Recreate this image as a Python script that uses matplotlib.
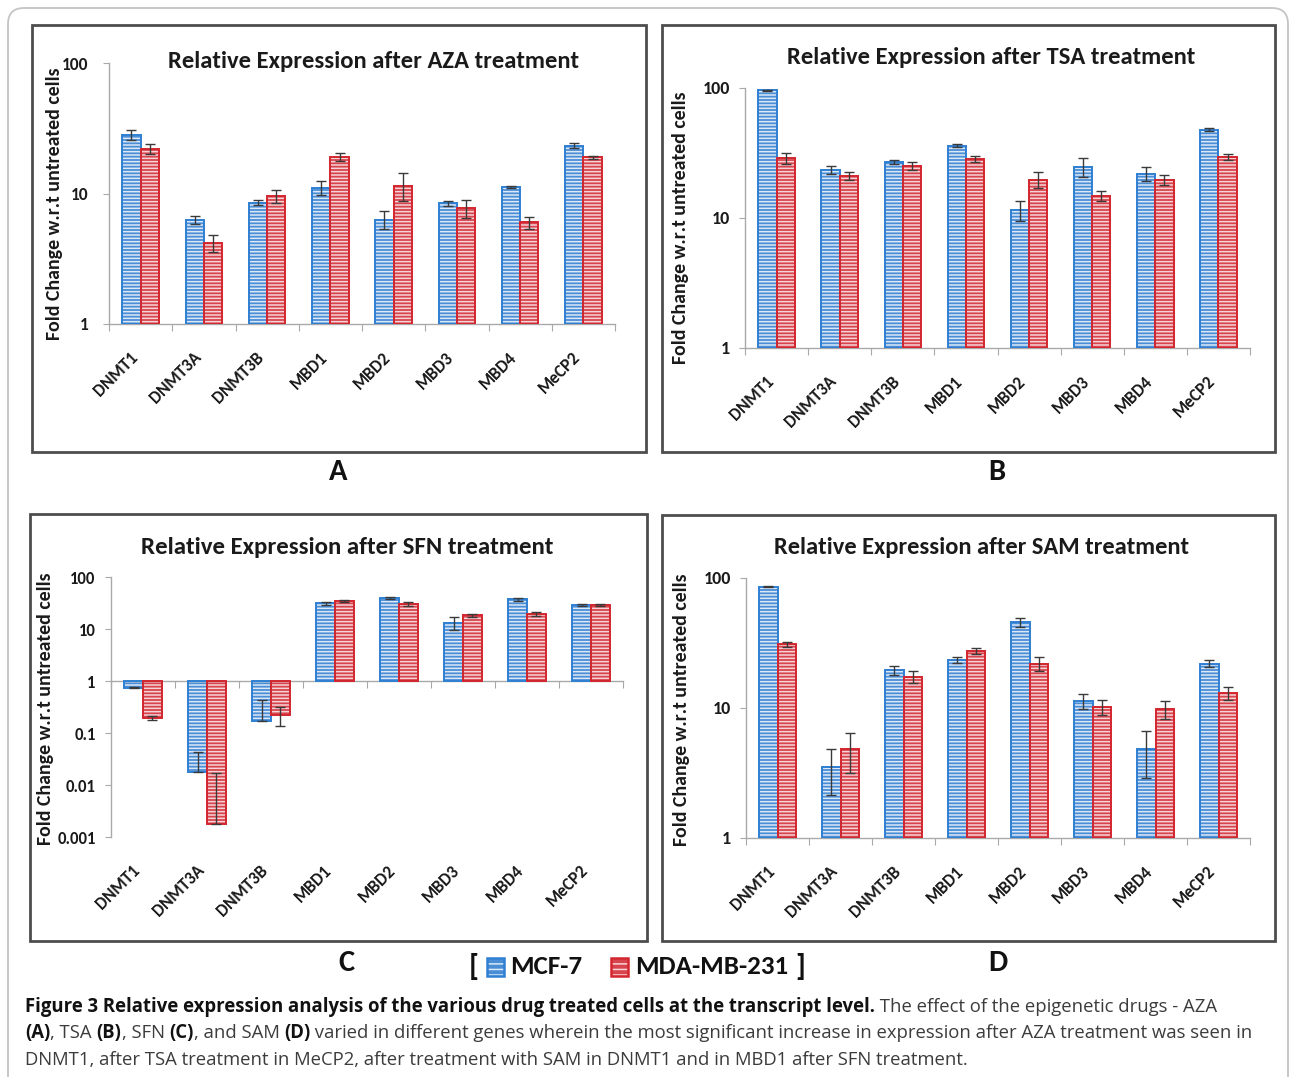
import numpy as np
import matplotlib
matplotlib.use("Agg")
import matplotlib.pyplot as plt
from matplotlib import font_manager
from matplotlib.patches import Rectangle, FancyBboxPatch
from matplotlib.transforms import IdentityTransform
from matplotlib.ticker import FixedLocator, NullLocator

# ---------------- data ----------------
genes = ["DNMT1", "DNMT3A", "DNMT3B", "MBD1", "MBD2", "MBD3", "MBD4", "MeCP2"]
series_names = ["MCF-7", "MDA-MB-231"]

aza_titles = "Relative Expression after AZA treatment"
tsa_titles = "Relative Expression after TSA treatment"
sfn_titles = "Relative Expression after SFN treatment"
sam_titles = "Relative Expression after SAM treatment"
ylabel_text = "Fold Change w.r.t untreated cells"

aza_mcf7 = [28.2, 6.3, 8.5, 11.1, 6.3, 8.4, 11.2, 23.2]
aza_mcf7_err = [2.7, 0.45, 0.4, 1.3, 1.0, 0.35, 0.2, 1.0]
aza_mda = [21.9, 4.2, 9.6, 19.2, 11.5, 7.7, 6.0, 18.9]
aza_mda_err = [1.9, 0.65, 1.1, 1.3, 2.8, 1.2, 0.65, 0.5]

tsa_mcf7 = [96.0, 23.5, 26.8, 36.0, 11.5, 24.7, 21.9, 47.8]
tsa_mcf7_err = [1.0, 1.7, 1.0, 1.0, 2.0, 4.0, 2.8, 1.2]
tsa_mda = [29.0, 21.0, 25.3, 28.6, 19.7, 14.7, 19.7, 29.5]
tsa_mda_err = [2.8, 1.5, 1.8, 1.5, 2.7, 1.3, 1.9, 1.5]

sfn_mcf7 = [0.74, 0.018, 0.17, 31.0, 39.0, 13.2, 37.3, 29.0]
sfn_mcf7_err_lo = [0.02, 0.0, 0.0, 1.5, 1.5, 3.5, 2.0, 1.5]
sfn_mcf7_err_hi = [0.02, 0.025, 0.26, 1.5, 1.5, 3.5, 2.0, 1.5]
sfn_mda = [0.194, 0.00175, 0.219, 34.5, 30.7, 18.3, 19.7, 29.0]
sfn_mda_err_lo = [0.02, 0.0, 0.083, 1.0, 3.0, 1.0, 2.0, 1.0]
sfn_mda_err_hi = [0.02, 0.0155, 0.10, 1.0, 3.0, 1.0, 2.0, 1.0]

sam_mcf7 = [85.8, 3.5, 19.5, 23.4, 45.6, 11.25, 4.8, 21.9]
sam_mcf7_err = [1.0, 1.35, 1.5, 1.4, 3.5, 1.5, 1.9, 1.3]
sam_mda = [30.9, 4.8, 17.3, 27.4, 21.9, 10.2, 9.77, 13.0]
sam_mda_err = [1.5, 1.65, 1.8, 1.5, 2.8, 1.3, 1.6, 1.5]

yticks_main = [1, 10, 100]
ytick_labels_main = ["1", "10", "100"]
yticks_sfn = [0.001, 0.01, 0.1, 1, 10, 100]
ytick_labels_sfn = ["0.001", "0.01", "0.1", "1", "10", "100"]

panel_letters = ["A", "B", "C", "D"]

caption_lines = [
    [("Figure 3 Relative expression analysis of the various drug treated cells at the transcript level.", "bold"),
     (" The effect of the epigenetic drugs - AZA", "normal")],
    [("(A)", "bold"), (", TSA ", "normal"), ("(B)", "bold"), (", SFN ", "normal"), ("(C)", "bold"),
     (", and SAM ", "normal"), ("(D)", "bold"),
     (" varied in different genes wherein the most significant increase in expression after AZA treatment was seen in", "normal")],
    [("DNMT1, after TSA treatment in MeCP2, after treatment with SAM in DNMT1 and in MBD1 after SFN treatment.", "normal")],
]

# ---------------- style ----------------
names = {f.name for f in font_manager.fontManager.ttflist}
def pick(*cands):
    for c in cands:
        if c in names:
            return c
    return "DejaVu Sans"

chart_font = pick("Carlito", "Lato", "Open Sans")
caption_font = pick("Liberation Sans Narrow", "Open Sans", "Lato")
plt.rcParams["font.family"] = [chart_font, "DejaVu Sans"]
plt.rcParams["hatch.linewidth"] = 1.1

BLUE_FILL, BLUE_STRIPE, BLUE_EDGE = "#4a8ed6", "#dbe8f7", "#2f7fd2"
RED_FILL, RED_STRIPE, RED_EDGE = "#d8444d", "#f6d3d6", "#d3262e"
AX_GRAY = "#a9a9a9"
TXT = "#1a1a1a"

W, H = 1290, 1077
fig = plt.figure(figsize=(W / 100, H / 100), dpi=100)
fig.patch.set_facecolor("white")
renderer = fig.canvas.get_renderer()


def fx(x):
    return x / W


def fy(y):
    return 1 - y / H


def fit_width(t, target):
    bb = t.get_window_extent(renderer)
    t.set_fontsize(t.get_fontsize() * target / bb.width)


def fit_height(t, target):
    bb = t.get_window_extent(renderer)
    t.set_fontsize(t.get_fontsize() * target / bb.height)


# outer rounded frame
fig.add_artist(FancyBboxPatch((8, H - 1110), 1280, 1102,
                              boxstyle="round,pad=0,rounding_size=16",
                              transform=IdentityTransform(), fill=False,
                              edgecolor="#c4c4c4", lw=1.3))

panels = [
    dict(title=aza_titles, mcf=aza_mcf7, mcf_lo=aza_mcf7_err, mcf_hi=aza_mcf7_err,
         mda=aza_mda, mda_lo=aza_mda_err, mda_hi=aza_mda_err,
         yt=yticks_main, ytl=ytick_labels_main, ylim=(1, 100),
         box=(32, 25, 646, 452), ax=(109, 63, 615, 324), title_xy=(374, 61), title_w=412,
         ylab_xy=(55, 204), letter_xy=(338, 472), ypad=11, ysize=12.5),
    dict(title=tsa_titles, mcf=tsa_mcf7, mcf_lo=tsa_mcf7_err, mcf_hi=tsa_mcf7_err,
         mda=tsa_mda, mda_lo=tsa_mda_err, mda_hi=tsa_mda_err,
         yt=yticks_main, ytl=ytick_labels_main, ylim=(1, 100),
         box=(662, 25, 1275, 452), ax=(745, 88, 1250, 348), title_xy=(991, 57), title_w=408,
         ylab_xy=(680, 228), letter_xy=(997, 472), ypad=7, ysize=13),
    dict(title=sfn_titles, mcf=sfn_mcf7, mcf_lo=sfn_mcf7_err_lo, mcf_hi=sfn_mcf7_err_hi,
         mda=sfn_mda, mda_lo=sfn_mda_err_lo, mda_hi=sfn_mda_err_hi,
         yt=yticks_sfn, ytl=ytick_labels_sfn, ylim=(0.001, 100),
         box=(30, 514, 647, 941), ax=(111, 577, 623, 837), title_xy=(347, 547), title_w=413,
         ylab_xy=(46, 709), letter_xy=(346, 963), ypad=7, ysize=12),
    dict(title=sam_titles, mcf=sam_mcf7, mcf_lo=sam_mcf7_err, mcf_hi=sam_mcf7_err,
         mda=sam_mda, mda_lo=sam_mda_err, mda_hi=sam_mda_err,
         yt=yticks_main, ytl=ytick_labels_main, ylim=(1, 100),
         box=(662, 515, 1275, 941), ax=(746, 578, 1250, 838), title_xy=(982, 548), title_w=417,
         ylab_xy=(682, 710), letter_xy=(998, 963), ypad=7, ysize=13),
]

bw = 0.29
x = np.arange(len(genes))

for letter, p in zip(panel_letters, panels):
    # panel frame
    x0, y0, x1, y1 = p["box"]
    fig.add_artist(Rectangle((x0, H - y1), x1 - x0, y1 - y0, transform=IdentityTransform(),
                             fill=False, edgecolor="#4d4d4d", lw=2.0))
    l, t, r, b = p["ax"]
    ax = fig.add_axes([l / W, 1 - b / H, (r - l) / W, (b - t) / H])
    ax.set_facecolor("none")
    ax.set_yscale("log")
    ax.set_ylim(*p["ylim"])
    ax.set_xlim(-0.5, len(genes) - 0.5)

    for vals, lo, hi, off, fill, stripe, edge in [
        (p["mcf"], p["mcf_lo"], p["mcf_hi"], -bw / 2, BLUE_FILL, BLUE_STRIPE, BLUE_EDGE),
        (p["mda"], p["mda_lo"], p["mda_hi"], bw / 2, RED_FILL, RED_STRIPE, RED_EDGE),
    ]:
        v = np.array(vals, dtype=float)
        ax.bar(x + off, v - 1, bottom=1, width=bw, color=fill, edgecolor=stripe,
               hatch="-----", linewidth=0, zorder=2)
        ax.bar(x + off, v - 1, bottom=1, width=bw, facecolor="none", edgecolor=edge,
               linewidth=1.4, zorder=3)
        ax.errorbar(x + off, v, yerr=[lo, hi], fmt="none", ecolor="#3a3a3a",
                    elinewidth=1.0, capsize=3.5, capthick=1.0, zorder=4)

    for s in ("top", "right"):
        ax.spines[s].set_visible(False)
    for s in ("left", "bottom"):
        ax.spines[s].set_color(AX_GRAY)
        ax.spines[s].set_linewidth(1.0)
    ax.spines["bottom"].set_position(("data", 1))

    ax.yaxis.set_major_locator(FixedLocator(p["yt"]))
    ax.yaxis.set_minor_locator(NullLocator())
    ax.set_yticklabels(p["ytl"], fontweight="bold", fontsize=p["ysize"], color=TXT)
    ax.tick_params(axis="y", direction="out", length=4, color=AX_GRAY, pad=p["ypad"])

    ax.set_xticks(np.arange(-0.5, len(genes)), labels=[""] * (len(genes) + 1))
    ax.xaxis.set_minor_locator(NullLocator())
    ax.tick_params(axis="x", direction="out", length=5, color=AX_GRAY)

    sec = ax.secondary_xaxis(0.0)
    sec.set_xticks(x, labels=genes, rotation=45, ha="right", va="top",
                   fontweight="bold", fontsize=12.5, color=TXT)
    sec.tick_params(length=0, pad=18)
    sec.spines["bottom"].set_visible(False)

    tt = fig.text(fx(p["title_xy"][0]), fy(p["title_xy"][1]), p["title"], ha="center",
                  va="center", fontweight="bold", fontsize=16, color=TXT)
    fit_width(tt, p["title_w"])

    yl = fig.text(fx(p["ylab_xy"][0]), fy(p["ylab_xy"][1]), ylabel_text, rotation=90,
                  ha="center", va="center", fontweight="bold", fontsize=12, color=TXT)
    fit_height(yl, 272)

    fig.text(fx(p["letter_xy"][0]), fy(p["letter_xy"][1]), letter, ha="center",
             va="center", fontweight="bold", fontsize=22, color="#111111")

# ---------------- legend line ----------------
leg_y = 967
fig.text(fx(469), fy(leg_y), "[", ha="left", va="center", fontweight="bold",
         fontsize=22, color="#111111")
for (name, fill, stripe, edge, ix, tx) in [
    (series_names[0], BLUE_FILL, BLUE_STRIPE, BLUE_EDGE, 487, 510),
    (series_names[1], RED_FILL, RED_STRIPE, RED_EDGE, 611, 635),
]:
    fig.add_artist(Rectangle((ix, H - leg_y - 9), 17, 18, transform=IdentityTransform(),
                             facecolor=fill, edgecolor=stripe, hatch="---", lw=0))
    fig.add_artist(Rectangle((ix, H - leg_y - 9), 17, 18, transform=IdentityTransform(),
                             facecolor="none", edgecolor=edge, lw=1.8))
    lt = fig.text(fx(tx), fy(leg_y), name, ha="left", va="center", fontweight="bold",
                  fontsize=18, color="#111111")
    if name == series_names[0]:
        fit_width(lt, 72)
        leg_size = lt.get_fontsize()
    else:
        lt.set_fontsize(leg_size)
fig.text(fx(795), fy(leg_y), "]", ha="left", va="center", fontweight="bold",
         fontsize=22, color="#111111")

# ---------------- caption ----------------
probe = fig.text(0, 0, caption_lines[2][0][0], family=[caption_font, "DejaVu Sans"], fontsize=13)
fit_width(probe, 943)
cap_size = probe.get_fontsize()
probe.remove()

baselines = [1012, 1038, 1065]
for line, base in zip(caption_lines, baselines):
    cx = 25
    for txt, wt in line:
        tobj = fig.text(fx(cx), fy(base), txt, ha="left", va="baseline",
                        family=[caption_font, "DejaVu Sans"], fontsize=cap_size,
                        fontweight=wt, color="#111111" if wt == "bold" else "#3c3c3c")
        cx += tobj.get_window_extent(renderer).width

fig.savefig("out.png", dpi=100, facecolor="white")
